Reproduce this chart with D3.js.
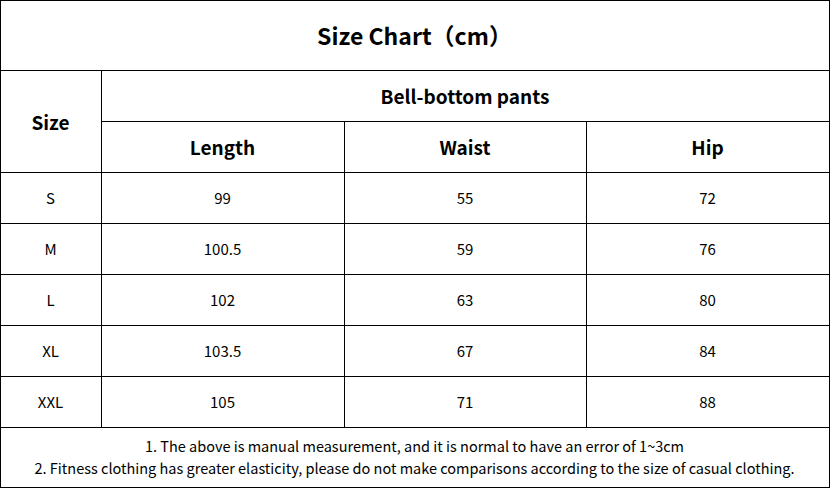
<!DOCTYPE html>
<html><head><meta charset="utf-8">
<script src="https://cdn.jsdelivr.net/npm/d3@7"></script>
<style>body{margin:0;background:#fff}</style>
</head><body>
<svg id="chart" width="830" height="488"></svg>
<script>
var title = "Size Chart\uFF08cm\uFF09";
var groupLabel = "Bell-bottom pants";
var columns = ["Length", "Waist", "Hip"];
var sizes = ["S", "M", "L", "XL", "XXL"];
var lengthVals = ["99", "100.5", "102", "103.5", "105"];
var waistVals = ["55", "59", "63", "67", "71"];
var hipVals = ["72", "76", "80", "84", "88"];
var notes = ["1. The above is manual measurement, and it is normal to have an error of 1~3cm",
  "2. Fitness clothing has greater elasticity, please do not make comparisons according to the size of casual clothing."];

var svg = d3.select("#chart"),
    font = "'Noto Sans CJK SC', 'Open Sans', sans-serif",
    W = 829, titleH = 70, headH = 51, rowH = 51;

var x = d3.scaleOrdinal().domain(["size"].concat(columns)).range([0.5, 101, 344, 586, W]);
var colEdges = [0.5, 101, 344, 586, W];
var rowY = d3.scaleBand().domain(sizes).range([titleH + 2 * headH, titleH + 2 * headH + sizes.length * rowH]);
var footTop = rowY.range()[1];

function line(x1, y1, x2, y2) {
  svg.append("line").attr("x1", x1).attr("y1", y1).attr("x2", x2).attr("y2", y2)
    .attr("stroke", "#000").attr("stroke-width", 1).attr("shape-rendering", "crispEdges");
}
function txt(cx, cy, s, size, bold) {
  svg.append("text").attr("x", cx).attr("y", cy).attr("text-anchor", "middle")
    .attr("dominant-baseline", "central").style("font-family", font)
    .style("font-size", size + "px").style("font-weight", bold ? "bold" : "normal").text(s);
}

svg.append("rect").attr("x", 0.5).attr("y", 0.5).attr("width", W).attr("height", 487)
  .attr("fill", "none").attr("stroke", "#000").attr("shape-rendering", "crispEdges");

line(0, titleH, W, titleH);
line(101, titleH + headH, W, titleH + headH);
sizes.forEach(function(s) { line(0, rowY(s), W, rowY(s)); });
line(0, footTop, W, footTop);
line(101, titleH, 101, footTop);
line(344, titleH + headH, 344, footTop);
line(586, titleH + headH, 586, footTop);

txt(W / 2, titleH / 2, title, 23, true);
txt(50.5, titleH + headH, "Size", 19, true);
txt((101 + W) / 2, titleH + headH / 2, groupLabel, 19, true);
columns.forEach(function(c, i) {
  txt((colEdges[i + 1] + colEdges[i + 2]) / 2, titleH + headH * 1.5, c, 19, true);
});
var series = [lengthVals, waistVals, hipVals];
sizes.forEach(function(s, r) {
  var cy = rowY(s) + rowY.bandwidth() / 2;
  txt(50.5, cy, s, 15, false);
  series.forEach(function(vals, i) {
    txt((colEdges[i + 1] + colEdges[i + 2]) / 2, cy, vals[r], 15, false);
  });
});
notes.forEach(function(n, i) {
  txt(W / 2, footTop + 18 + i * 22, n, 14.5, false);
});
</script>
</body></html>
